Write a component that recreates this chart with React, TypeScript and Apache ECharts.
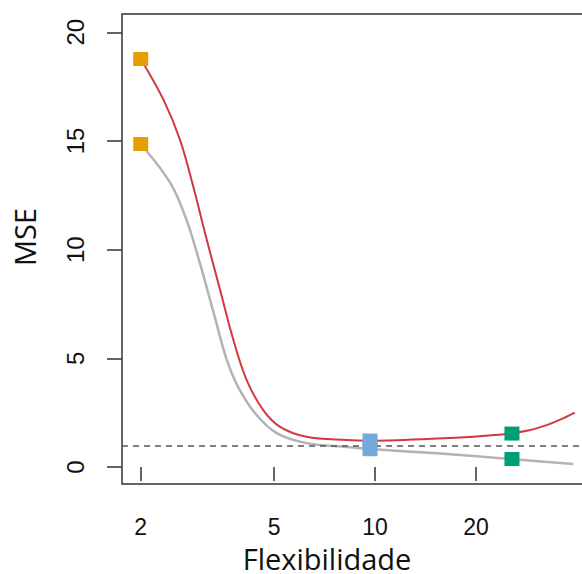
import React, { useEffect, useRef } from "react";
import * as echarts from "echarts";

// Test MSE curve (red)
const testFlex = [2, 2.34, 2.62, 2.87, 3.11, 3.45, 3.78, 4.14, 4.64, 5.21, 6.25, 8.23, 9.66, 15.3, 23.9, 28.6, 32.5, 36.4, 39.4];
const testMSE = [18.77, 16.89, 15.05, 12.9, 10.77, 8.15, 5.84, 4.0, 2.62, 1.85, 1.39, 1.24, 1.21, 1.31, 1.5, 1.68, 1.93, 2.24, 2.5];

// Training MSE curve (grey)
const trainFlex = [2, 2.45, 2.74, 3.0, 3.3, 3.6, 3.9, 4.4, 5.09, 6.25, 8.23, 9.66, 15.3, 25.3, 39.0];
const trainMSE = [14.86, 13.07, 11.37, 9.4, 7.1, 5.0, 3.7, 2.45, 1.56, 1.1, 0.92, 0.83, 0.63, 0.37, 0.14];

// Highlighted fits
const markerFlex = [2, 9.66, 25.6];
const markerTest = [18.77, 1.22, 1.54];
const markerTrain = [14.86, 0.82, 0.37];
const markerColors = ["#E69F00", "#74A9D9", "#009E73"];

const irreducibleError = 1.0;

const xTicks = [2, 5, 10, 20];
const yTicks = [0, 5, 10, 15, 20];

const xTitle = "Flexibilidade";
const yTitle = "MSE";

export default function App() {
  const ref = useRef<HTMLDivElement>(null);

  useEffect(() => {
    document.body.style.margin = "0";
    document.body.style.overflow = "hidden";
    const chart = echarts.init(ref.current!, null, { renderer: "svg" });
    const lg = (v: number) => Math.log10(v);
    const markerData = (ys: number[]) =>
      markerFlex.map((f, i) => ({
        value: [lg(f), ys[i]],
        itemStyle: { color: markerColors[i], opacity: 1 },
      }));

    chart.setOption({
      animation: false,
      backgroundColor: "#ffffff",
      grid: {
        left: 122,
        top: 14,
        width: 472,
        height: 470,
        outerBoundsMode: "none",
        containLabel: false,
        show: true,
        borderColor: "#333",
        borderWidth: 1.5,
        backgroundColor: "transparent",
      },
      xAxis: {
        type: "value",
        min: 0.24526,
        max: 0.24526 + 472 / 335.3,
        splitLine: { show: false },
        axisLine: { show: false },
        axisTick: {
          show: true,
          length: 14,
          customValues: xTicks.map(lg),
          lineStyle: { color: "#333", width: 1.5 },
        },
        axisLabel: {
          customValues: xTicks.map(lg),
          formatter: (v: number) => String(Math.round(Math.pow(10, v))),
          fontFamily: "Liberation Sans",
          fontSize: 23,
          color: "#111",
          margin: 31,
        },
      },
      yAxis: {
        type: "value",
        min: -0.78,
        max: 20.84,
        splitLine: { show: false },
        axisLine: { show: false },
        axisTick: {
          show: true,
          length: 15,
          customValues: yTicks,
          lineStyle: { color: "#333", width: 1.5 },
        },
        axisLabel: {
          customValues: yTicks,
          rotate: 90,
          fontFamily: "Liberation Sans",
          fontSize: 24,
          color: "#111",
          margin: 35,
        },
      },
      graphic: [
        {
          type: "text",
          x: 327,
          y: 558,
          style: {
            text: xTitle,
            font: '29px "Open Sans"',
            lineHeight: 24,
            fill: "#111",
            textAlign: "center",
            textVerticalAlign: "middle",
          },
        },
        {
          type: "text",
          x: 24,
          y: 237,
          rotation: Math.PI / 2,
          style: {
            text: yTitle,
            font: '29px "Open Sans"',
            fill: "#111",
            textAlign: "center",
            textVerticalAlign: "middle",
          },
        },
      ],
      series: [
        {
          type: "line",
          data: trainFlex.map((f, i) => [lg(f), trainMSE[i]]),
          smooth: 0.35,
          showSymbol: false,
          lineStyle: { color: "#B3B3B3", width: 2.5 },
          z: 2,
        },
        {
          type: "line",
          data: testFlex.map((f, i) => [lg(f), testMSE[i]]),
          smooth: 0.35,
          showSymbol: false,
          lineStyle: { color: "#D0393E", width: 2 },
          z: 3,
          markLine: {
            silent: true,
            symbol: ["none", "none"],
            label: { show: false },
            lineStyle: { type: [6, 5], color: "#555", width: 1.5 },
            data: [{ yAxis: irreducibleError }],
          },
        },
        {
          type: "scatter",
          symbol: "rect",
          symbolSize: [15, 14],
          data: markerData(markerTrain),
          z: 4,
        },
        {
          type: "scatter",
          symbol: "rect",
          symbolSize: [15, 14],
          data: markerData(markerTest),
          z: 5,
        },
      ],
    });
    return () => chart.dispose();
  }, []);

  return <div ref={ref} style={{ width: 582, height: 574 }} />;
}
